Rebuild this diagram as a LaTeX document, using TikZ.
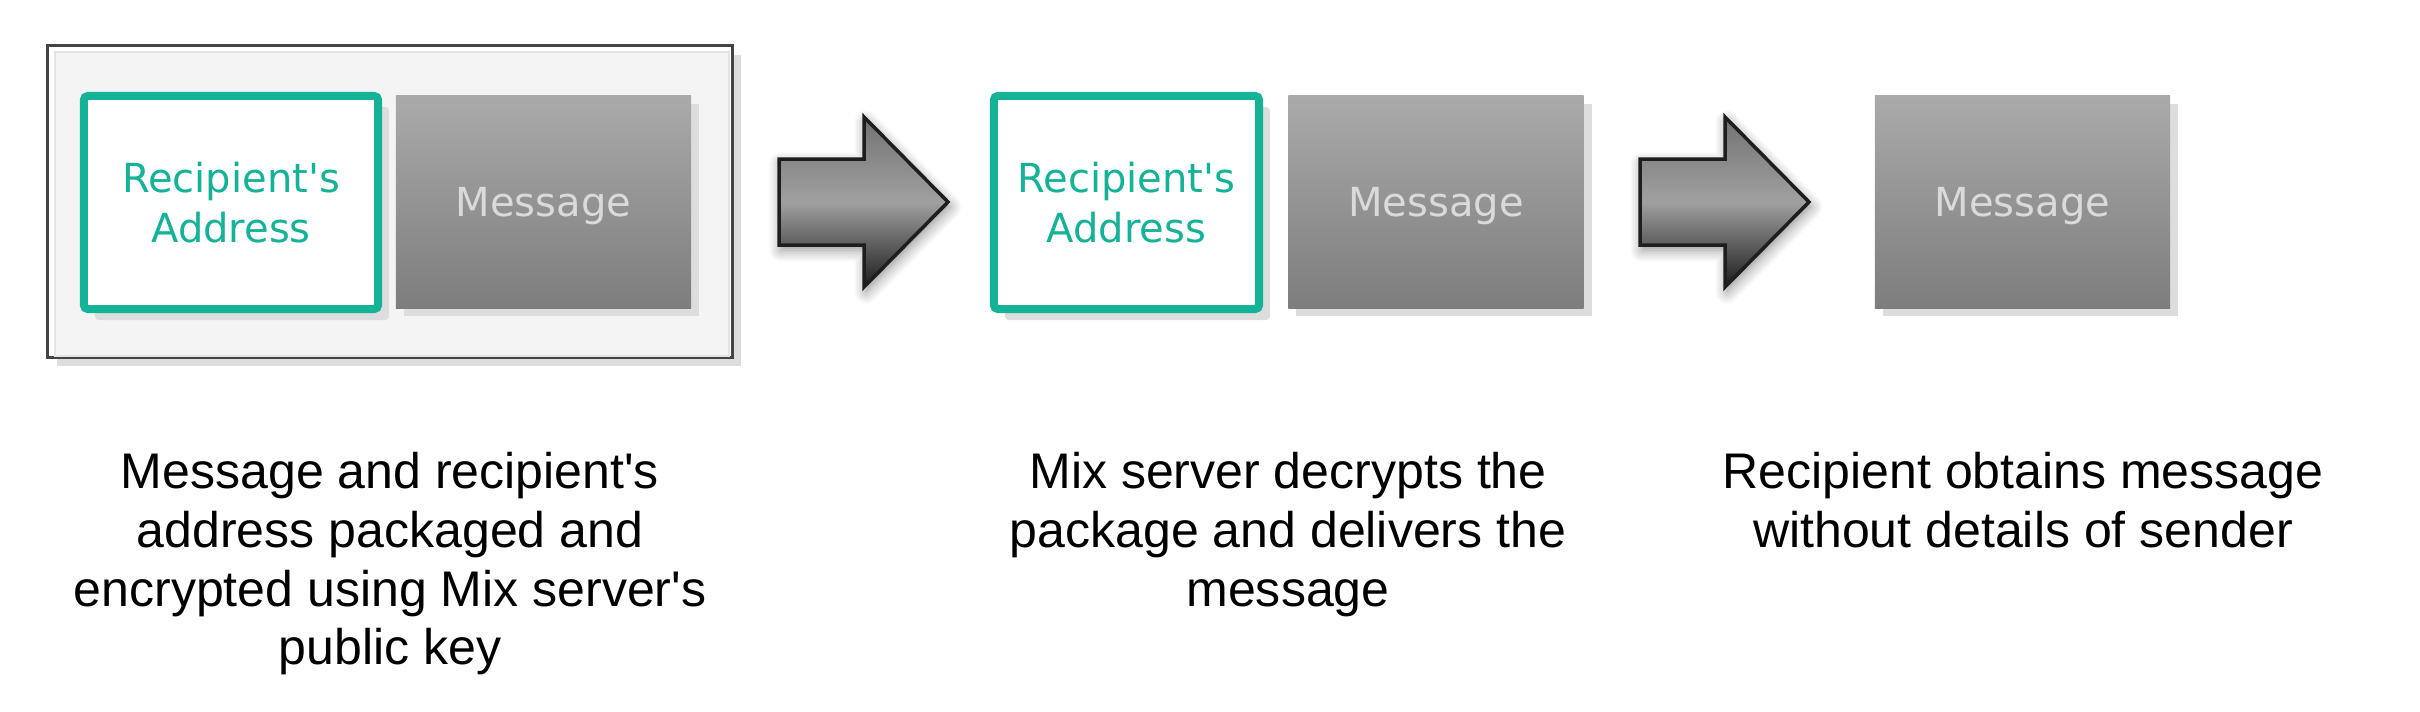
\documentclass[tikz,border=0pt]{standalone}
\usepackage{fontspec}
\usetikzlibrary{shadows,shadows.blur}

\newfontfamily\boxfamily{DejaVu Sans}
\newfontfamily\capfamily{Liberation Sans}
\newcommand\boxtext{\boxfamily\fontsize{11.38pt}{14.23pt}\selectfont}
\newcommand\captext{\capfamily\fontsize{14.23pt}{16.64pt}\selectfont}

\definecolor{mixgreen}{RGB}{20,178,150}
\definecolor{msgtop}{RGB}{170,170,170}
\definecolor{msgbottom}{RGB}{125,125,125}
\definecolor{msgtext}{RGB}{218,218,218}
\definecolor{boxshadow}{RGB}{221,221,221}
\definecolor{framegray}{RGB}{68,68,68}
\definecolor{panelgray}{RGB}{244,244,244}
\definecolor{panelline}{RGB}{228,228,228}
\definecolor{arrowline}{RGB}{30,30,30}
\definecolor{arrowtop}{RGB}{114,114,114}
\definecolor{arrowmid}{RGB}{160,160,160}
\definecolor{arrowbottom}{RGB}{28,28,28}

\begin{document}
\begin{tikzpicture}[x=0.01cm,y=-0.01cm,
    flatshadow/.style={drop shadow={shadow xshift=#1, shadow yshift=-#1, fill=boxshadow, opacity=1}},
    bigarrow/.style={draw=arrowline, line width=0.035cm, line join=miter,
      top color=arrowtop, bottom color=arrowbottom, middle color=arrowmid,
      blur shadow={shadow xshift=0.02cm, shadow yshift=-0.05cm, shadow blur radius=0.12cm, shadow blur steps=8, shadow opacity=45}}]

      \useasboundingbox (0,0) rectangle (2420,712);

      % package frame
      \node (frame) at (390,201.5) [draw=framegray, line width=0.035cm, fill=white,
        minimum width=6.845cm, minimum height=3.115cm, flatshadow=0.09cm] {};
      \node (panel) at (392,204) [draw=panelline, line width=0.02cm, fill=panelgray,
        minimum width=6.74cm, minimum height=3.04cm] {};

      \begin{scope}[every node/.style={draw=mixgreen, line width=0.08cm, rounded corners=0.04cm,
          fill=white, text=mixgreen, font=\boxtext, align=center, inner sep=0pt,
          minimum height=2.13cm, flatshadow=0.11cm}]
        \node (addr1) at (231,202.5)    [minimum width=2.94cm] {Recipient's\\Address};
        \node (addr2) at (1126.5,202.5) [minimum width=2.65cm] {Recipient's\\Address};
      \end{scope}

      \begin{scope}[every node/.style={top color=msgtop, bottom color=msgbottom, text=msgtext,
          font=\boxtext, inner sep=0pt, text depth=0pt, minimum width=2.95cm,
          minimum height=2.12cm, flatshadow=0.08cm}]
        \node (msg1) at (543.5,202)  {Message};
        \node (msg2) at (1436,202)   {Message};
        \node (msg3) at (2022.5,202) {Message};
      \end{scope}

      % step arrows
      \coordinate (tail1) at (779,202);
      \coordinate (tail2) at (1640,202);
      \draw[bigarrow] (tail1) ++(0,-43) -- ++(85,0) -- ++(0,-42) -- ++(84,85)
        -- ++(-84,85) -- ++(0,-42) -- ++(-85,0) -- cycle;
      \draw[bigarrow] (tail2) ++(0,-43) -- ++(85,0) -- ++(0,-42) -- ++(84,85)
        -- ++(-84,85) -- ++(0,-42) -- ++(-85,0) -- cycle;

      \begin{scope}[every node/.style={font=\captext, align=center, inner sep=0pt, anchor=north}]
        \node (cap1) at (390,452)  {Message and recipient's\\address packaged and\\encrypted using Mix server's\\public key};
        \node (cap2) at (1288,452) {Mix server decrypts the\\package and delivers the\\message};
        \node (cap3) at (2023,452) {Recipient obtains message\\without details of sender};
      \end{scope}

    \end{tikzpicture}
\end{document}
